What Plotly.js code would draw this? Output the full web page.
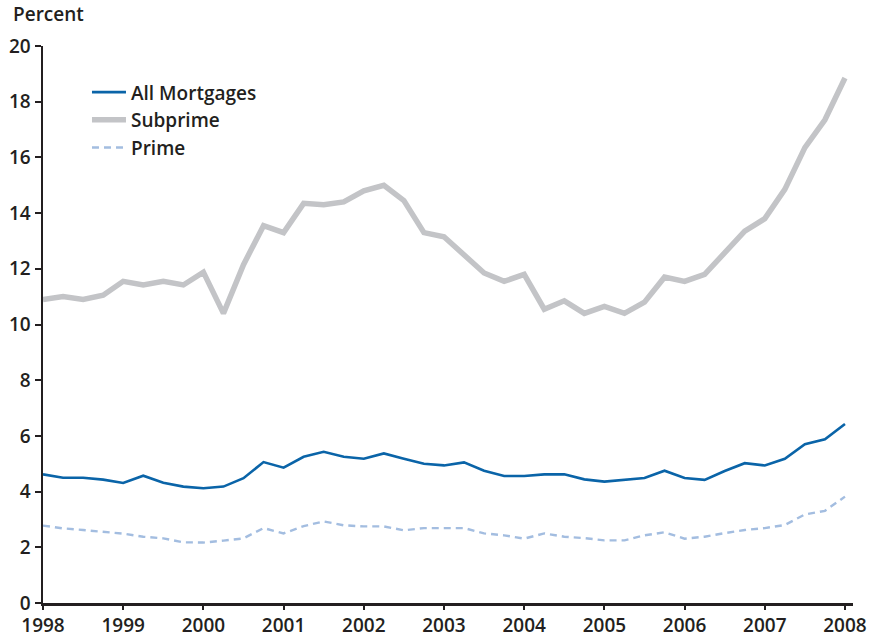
<!DOCTYPE html>
<html>
<head>
<meta charset="utf-8">
<script src="https://cdn.plot.ly/plotly-3.0.1.min.js"></script>
<style>html,body{margin:0;padding:0;background:#fff;}#chart{width:871px;height:637px;}</style>
</head>
<body>
<div id="chart"></div>
<script>
// Quarterly observations, 1998 Q1 through 2008 Q1
const quarters = [
  1998.00, 1998.25, 1998.50, 1998.75,
  1999.00, 1999.25, 1999.50, 1999.75,
  2000.00, 2000.25, 2000.50, 2000.75,
  2001.00, 2001.25, 2001.50, 2001.75,
  2002.00, 2002.25, 2002.50, 2002.75,
  2003.00, 2003.25, 2003.50, 2003.75,
  2004.00, 2004.25, 2004.50, 2004.75,
  2005.00, 2005.25, 2005.50, 2005.75,
  2006.00, 2006.25, 2006.50, 2006.75,
  2007.00, 2007.25, 2007.50, 2007.75,
  2008.00
];

const allMortgages = [
  4.62, 4.50, 4.50, 4.43,
  4.31, 4.57, 4.32, 4.18,
  4.12, 4.18, 4.48, 5.06,
  4.86, 5.25, 5.43, 5.25,
  5.18, 5.37, 5.18, 5.00,
  4.94, 5.05, 4.75, 4.56,
  4.56, 4.62, 4.62, 4.44,
  4.36, 4.43, 4.49, 4.75,
  4.49, 4.42, 4.74, 5.02,
  4.94, 5.18, 5.70, 5.88,
  6.43
];

const subprime = [
  10.90, 11.00, 10.90, 11.05,
  11.55, 11.42, 11.55, 11.42,
  11.88, 10.40, 12.15, 13.55,
  13.30, 14.35, 14.30, 14.40,
  14.80, 15.00, 14.45, 13.30,
  13.15, 12.50, 11.85, 11.55,
  11.80, 10.55, 10.85, 10.40,
  10.65, 10.40, 10.80, 11.70,
  11.55, 11.80, 12.60, 13.35,
  13.80, 14.85, 16.35, 17.35,
  18.85
];

const prime = [
  2.78, 2.68, 2.62, 2.55,
  2.49, 2.38, 2.32, 2.18,
  2.17, 2.24, 2.32, 2.69,
  2.50, 2.76, 2.93, 2.79,
  2.75, 2.75, 2.61, 2.69,
  2.69, 2.69, 2.50, 2.43,
  2.31, 2.50, 2.38, 2.33,
  2.25, 2.25, 2.43, 2.54,
  2.31, 2.38, 2.51, 2.62,
  2.69, 2.80, 3.18, 3.31,
  3.82
];

const yearTicks = [1998, 1999, 2000, 2001, 2002, 2003, 2004, 2005, 2006, 2007, 2008];
const yearLabels = ["1998", "1999", "2000", "2001", "2002", "2003", "2004", "2005", "2006", "2007", "2008"];
const pctTicks = [0, 2, 4, 6, 8, 10, 12, 14, 16, 18, 20];
const pctLabels = ["0", "2", "4", "6", "8", "10", "12", "14", "16", "18", "20"];

const FONT = "'Open Sans', Lato, sans-serif";
const INK = "#231f20";

const traces = [
  {
    x: quarters, y: allMortgages, name: "All Mortgages", type: "scatter", mode: "lines",
    line: {color: "#0a64a8", width: 2.6}
  },
  {
    x: quarters, y: subprime, name: "Subprime", type: "scatter", mode: "lines",
    line: {color: "#c3c4c7", width: 5.5}
  },
  {
    x: quarters, y: prime, name: "Prime", type: "scatter", mode: "lines",
    line: {color: "#a3bde0", width: 2.4, dash: "7px,5px"}
  }
];

const layout = {
  width: 871, height: 637,
  margin: {l: 43, r: 18, t: 46, b: 34, pad: 0},
  paper_bgcolor: "#fff", plot_bgcolor: "#fff",
  font: {family: FONT, color: INK, size: 19},
  showlegend: true,
  legend: {
    x: 0.0543, y: 0.951, xanchor: "left", yanchor: "top",
    bgcolor: "rgba(0,0,0,0)", borderwidth: 0,
    font: {family: FONT, size: 19, color: INK, weight: 600},
    itemwidth: 34, tracegroupgap: 0
  },
  xaxis: {
    range: [1998, 2008.1], tickvals: yearTicks, ticktext: yearLabels,
    showgrid: false, zeroline: false, showline: true, linecolor: INK, linewidth: 2.5,
    ticks: "outside", ticklen: 4, tickwidth: 2, tickcolor: INK,
    tickfont: {family: FONT, size: 19, color: INK, weight: 600}, fixedrange: true
  },
  yaxis: {
    range: [0, 20], tickvals: pctTicks, ticktext: pctLabels,
    showgrid: false, zeroline: false, showline: true, linecolor: INK, linewidth: 2.5,
    ticks: "outside", ticklen: 6, tickwidth: 2, tickcolor: INK,
    tickfont: {family: FONT, size: 19, color: INK, weight: 600}, fixedrange: true
  },
  annotations: [{
    text: "Percent", xref: "paper", yref: "paper", x: -0.04, y: 1.03,
    xanchor: "left", yanchor: "bottom", showarrow: false,
    font: {family: FONT, size: 19, color: INK, weight: 600}
  }]
};

Plotly.newPlot("chart", traces, layout, {displayModeBar: false, staticPlot: true});
</script>
</body>
</html>
